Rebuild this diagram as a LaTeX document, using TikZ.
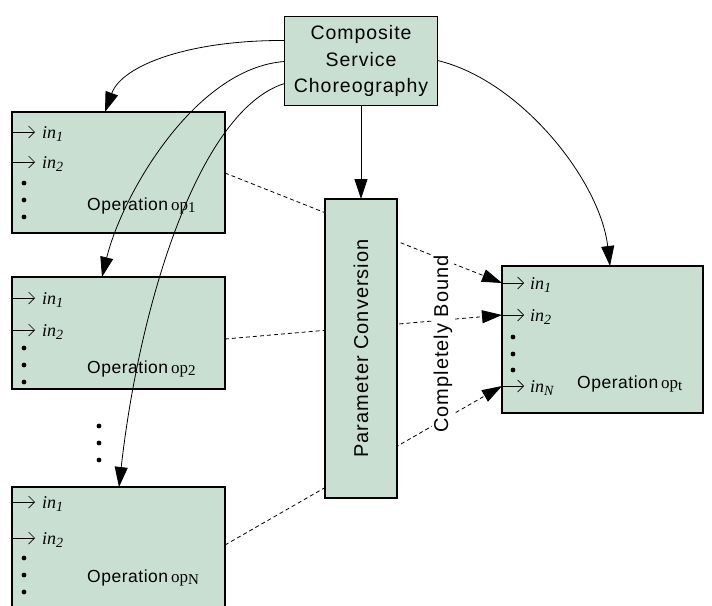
\documentclass[tikz,border=0pt]{standalone}
\usepackage{fontspec}
\setmainfont{Liberation Sans}
\newfontfamily\tms{Liberation Serif}
\newfontfamily\arialsp[LetterSpace=5]{Liberation Sans}
\newfontfamily\arialop[LetterSpace=3]{Liberation Sans}
\usetikzlibrary{arrows.meta,calc}
\definecolor{boxfill}{RGB}{201,223,210}
\newcommand{\myin}[1]{{\tms\itshape\fontsize{18}{18}\selectfont in\raisebox{-3.5pt}{\fontsize{14}{14}\selectfont #1}}}
\newcommand{\myop}[1]{{\arialop\fontsize{17.5}{17.5}\selectfont Operation} {\tms\fontsize{17}{17}\selectfont op\raisebox{-2.5pt}{\fontsize{15}{15}\selectfont #1}}}
\begin{document}
\begin{tikzpicture}[x=1pt,y=-1pt,
  opbox/.style={draw=black, line width=1.9pt, fill=boxfill, anchor=north west, inner sep=0pt, outer sep=0pt},
  bigarrow/.style={-{Triangle[length=20pt,width=13pt]}, line width=0.8pt},
  dashline/.style={bigarrow, dash pattern=on 4pt off 3pt},
  inarrow/.style={-{Straight Barb[length=6pt,width=12pt]}, line width=0.7pt},
  inlabel/.style={anchor=base west, inner sep=0pt},
  oplabel/.style={anchor=base west, inner sep=0pt},
  dotmark/.style={circle, fill=black, inner sep=0pt, minimum size=4.8pt},
]
\useasboundingbox (0,0) rectangle (712,605);
\fill[white] (0,0) rectangle (712,605);

% operation boxes
\node[opbox, minimum width=213pt, minimum height=121pt] (op1) at (12,112) {};
\node[opbox, minimum width=213pt, minimum height=112pt] (op2) at (12,277) {};
\node[opbox, minimum width=213pt, minimum height=126pt] (opN) at (12,487) {};
\node[opbox, minimum width=201pt, minimum height=147pt] (opt) at (502,266) {};
\node[opbox, minimum width=153pt, minimum height=89pt, anchor=center, align=center,
      font=\arialsp\fontsize{19.5}{26.5}\selectfont] (cs) at (361,61) {Composite\\Service\\Choreography};

% input rows of the three source operations
\foreach \b/\ya/\yb in {op1/20/50, op2/21/53, opN/15/51} {
  \draw[inarrow] ($(\b.north west)+(0,\ya)$) coordinate (\b-a1) -- ++(23,0) coordinate (\b-a1e);
  \node[inlabel] (\b-l1) at ($(\b.north west)+(30,\ya+6)$) {\myin{1}};
  \draw[inarrow] ($(\b.north west)+(0,\yb)$) coordinate (\b-a2) -- ++(23,0) coordinate (\b-a2e);
  \node[inlabel] (\b-l2) at ($(\b.north west)+(30,\yb+6)$) {\myin{2}};
}
\foreach \b in {op1, op2, opN} {
  \node[dotmark] (\b-d1) at ($(\b.north west)+(12,71)$) {};
  \node[dotmark] (\b-d2) at ($(\b.north west)+(12,88)$) {};
  \node[dotmark] (\b-d3) at ($(\b.north west)+(12,105)$) {};
}
\node[oplabel] (op1-lab) at ($(op1.north west)+(75,98)$) {\myop{1}};
\node[oplabel] (op2-lab) at ($(op2.north west)+(75,96)$) {\myop{2}};
\node[oplabel] (opN-lab) at ($(opN.north west)+(75,95)$) {\myop{N}};

% target operation
\draw[inarrow] ($(opt.north west)+(0,17)$) coordinate (t1) -- ++(22,0) coordinate (t1e);
\node[inlabel] (t-l1) at ($(opt.north west)+(28,23)$) {\myin{1}};
\draw[inarrow] ($(opt.north west)+(0,49)$) coordinate (t2) -- ++(22,0) coordinate (t2e);
\node[inlabel] (t-l2) at ($(opt.north west)+(28,55)$) {\myin{2}};
\draw[inarrow] ($(opt.north west)+(0,120)$) coordinate (tN) -- ++(22,0) coordinate (tNe);
\node[inlabel] (t-lN) at ($(opt.north west)+(28,126)$) {\myin{N}};
\node[dotmark] (t-d1) at ($(opt.north west)+(11,71)$) {};
\node[dotmark] (t-d2) at ($(opt.north west)+(11,88)$) {};
\node[dotmark] (t-d3) at ($(opt.north west)+(11,104)$) {};
\node[oplabel] (opt-lab) at ($(opt.north west)+(75,122)$) {\myop{t}};

% dots between op2 and opN
\node[dotmark] (m1) at (99,426) {};
\node[dotmark] (m2) at (99,443) {};
\node[dotmark] (m3) at (99,460) {};

% dashed bindings (behind the conversion box)
\coordinate (s1) at ($(op1.north east)+(0,61)$);
\coordinate (s2) at ($(op2.north east)+(0,62)$);
\coordinate (sN) at ($(opN.north east)+(0,58)$);
\draw[dashline] (s1) -- (t1);
\draw[dashline] (s2) -- (t2);
\draw[dashline] (sN) -- (tN);

% parameter conversion box
\node[opbox, minimum width=72pt, minimum height=299pt] (pc) at (325,199) {};
\node[rotate=90, font=\arialsp\fontsize{20}{20}\selectfont] (pclab) at (pc.center) {Parameter Conversion};
\node[rotate=90, fill=white, inner sep=2pt, font=\arialsp\fontsize{20}{20}\selectfont] (cb) at (443,344) {Completely Bound};

% choreography connectors
\draw[bigarrow] ($(cs.north west)+(0,24)$) .. controls (190,40) and (122,65) .. ($(op1.north west)+(93,0)$);
\draw[bigarrow] ($(cs.north west)+(0,45)$) .. controls (195,68) and (122,195) .. ($(op2.north west)+(90,0)$);
\draw[bigarrow] ($(cs.north west)+(0,67)$) .. controls (200,110) and (140,300) .. ($(opN.north west)+(107,0)$);
\draw[bigarrow] ($(cs.north east)+(0,44)$) .. controls (520,80) and (600,180) .. ($(opt.north west)+(108,0)$);
\draw[bigarrow] (cs.south) -- (pc.north);
\end{tikzpicture}
\end{document}
